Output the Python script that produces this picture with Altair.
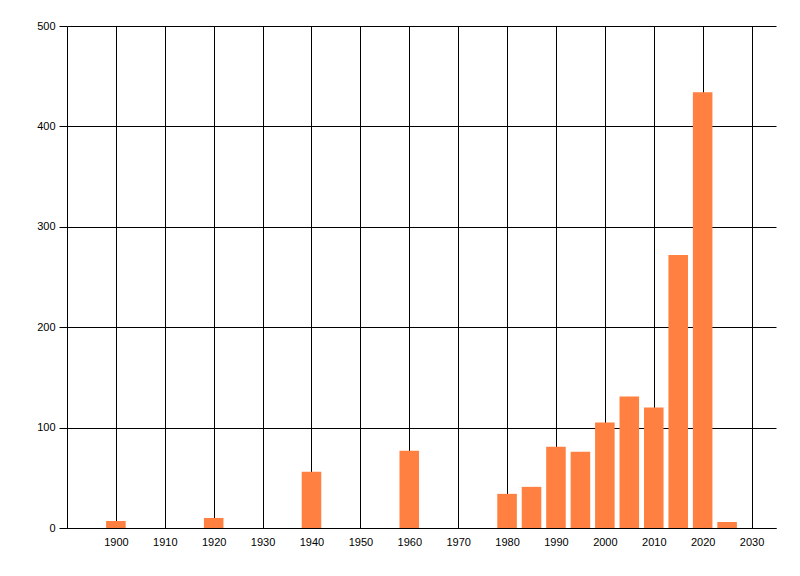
"""Bar chart of counts per five-year bin."""

import altair as alt
import pandas as pd

years = [1900, 1920, 1940, 1960, 1980, 1985, 1990, 1995, 2000, 2005, 2010, 2015, 2020, 2025]
counts = [7, 10, 56, 77, 34, 41, 81, 76, 105, 131, 120, 272, 434, 6]
x_ticks = list(range(1900, 2031, 10))
y_ticks = [0, 100, 200, 300, 400, 500]

df = pd.DataFrame({"year": years, "count": counts})

font = "Liberation Sans"

chart = alt.Chart(df).mark_bar(color="#FF8040").transform_calculate(
    x0="datum.year - 2", x1="datum.year + 2"
).encode(
    x=alt.X("x0:Q", title=None,
            scale=alt.Scale(domain=[1890, 2035], nice=False, zero=False, padding=0),
            axis=alt.Axis(values=x_ticks, format="d", grid=True, gridColor="black",
                          gridOpacity=1, domainColor="black", tickSize=0,
                          labelPadding=8, labelColor="black", labelFont=font,
                          labelFontSize=11)),
    x2="x1:Q",
    y=alt.Y("count:Q", title=None,
            scale=alt.Scale(domain=[0, 500], nice=False, padding=0),
            axis=alt.Axis(values=y_ticks, grid=True, gridColor="black", gridOpacity=1,
                          domainColor="black", tickColor="black", tickSize=8,
                          labelPadding=4, labelColor="black", labelFont=font,
                          labelFontSize=11)),
    y2=alt.datum(0),
).properties(
    width=709,
    height=502,
    autosize=alt.AutoSizeParams(type="none"),
    padding={"left": 59, "top": 18, "right": 16, "bottom": 40},
).configure_view(stroke=None)

chart.save("out.html", embed_options={"renderer": "svg", "actions": False})
